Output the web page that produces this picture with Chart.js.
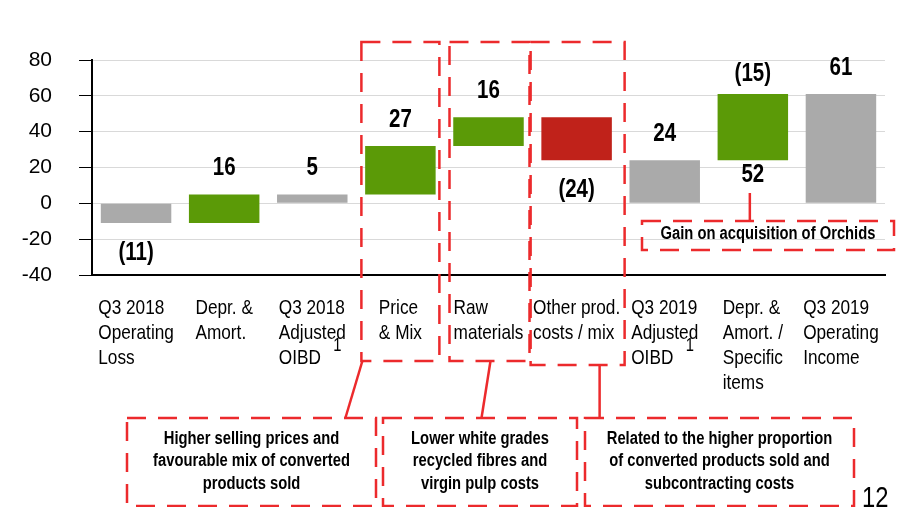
<!DOCTYPE html>
<html lang="en">
<head>
<meta charset="UTF-8">
<title>Operating income bridge Q3 2018 - Q3 2019</title>
<style>
  html, body { margin: 0; padding: 0; background: #fff; }
  .chart-box { width: 900px; height: 507px; }
</style>
</head>
<body>
<div class="chart-box"><canvas id="bridgeChart" width="900" height="507"></canvas></div>
<script src="https://cdn.jsdelivr.net/npm/chart.js"></script>
<script>
// category labels, one array entry per line
const categories = [
  ['Q3 2018', 'Operating', 'Loss'],
  ['Depr. &', 'Amort.'],
  ['Q3 2018', 'Adjusted', 'OIBD'],
  ['Price', '& Mix'],
  ['Raw', 'materials'],
  ['Other prod.', 'costs / mix'],
  ['Q3 2019', 'Adjusted', 'OIBD'],
  ['Depr. &', 'Amort. /', 'Specific', 'items'],
  ['Q3 2019', 'Operating', 'Income']
];
// floating bars: start and end value of each step
const barFrom = [0, -11, 0, 5, 32, 48, 0, 24, 0];
const barTo = [-11, 5, 5, 32, 48, 24, 24, 61, 61];
const barKind = ['total', 'up', 'total', 'up', 'up', 'down', 'total', 'up', 'total'];
const valueLabels = ['(11)', '16', '5', '27', '16', '(24)', '24', '(15)', '61'];
const extraLabels = ['', '', '', '', '', '', '', '52', ''];
const hasFootnote = [false, false, true, false, false, false, true, false, false];
const yMin = -40;
const yMax = 80;
const yStep = 20;

const noteTexts = [
  ['Higher selling prices and', 'favourable mix of converted', 'products sold'],
  ['Lower white grades', 'recycled fibres and', 'virgin pulp costs'],
  ['Related to the higher proportion', 'of converted products sold and', 'subcontracting costs']
];
const orchidsNote = 'Gain on acquisition of Orchids';
const pageNumber = '12';

const REGULAR = '"Liberation Sans", Arial, sans-serif';
const NARROW_SCALE = 0.82; // no narrow font installed, squeeze Liberation Sans instead
const kindColors = { total: '#aaaaaa', up: '#5b9a07', down: '#c0221a' };
const noteRed = '#ec2a2c';

function narrowText(ctx, text, x, y) {
  ctx.save();
  ctx.translate(x, y);
  ctx.scale(NARROW_SCALE, 1);
  ctx.fillText(text, 0, 0);
  ctx.restore();
}

function narrowWidth(ctx, text) {
  return ctx.measureText(text).width * NARROW_SCALE;
}

function strokeBox(ctx, x1, y1, x2, y2) {
  ctx.beginPath();
  ctx.rect(x1, y1, x2 - x1, y2 - y1);
  ctx.stroke();
}

function line(ctx, x1, y1, x2, y2) {
  ctx.beginPath();
  ctx.moveTo(x1, y1);
  ctx.lineTo(x2, y2);
  ctx.stroke();
}

const bridgeDecor = {
  id: 'bridgeDecor',
  afterDatasetsDraw(chart) {
    const ctx = chart.ctx;
    const xs = chart.scales.x;
    const area = chart.chartArea;
    const meta = chart.getDatasetMeta(0);
    ctx.save();

    // value labels
    ctx.fillStyle = '#000';
    ctx.textAlign = 'center';
    ctx.textBaseline = 'middle';
    ctx.font = 'bold 25px ' + REGULAR;
    meta.data.forEach((bar, i) => {
      const top = Math.min(bar.y, bar.base);
      const bottom = Math.max(bar.y, bar.base);
      if (extraLabels[i]) {
        narrowText(ctx, valueLabels[i], bar.x, top - 20);
        narrowText(ctx, extraLabels[i], bar.x, bottom + 15);
      } else if (barTo[i] < barFrom[i]) {
        narrowText(ctx, valueLabels[i], bar.x, bottom + 30);
      } else {
        narrowText(ctx, valueLabels[i], bar.x, top - 26);
      }
    });

    // category labels: block centred on the bar, lines left aligned
    ctx.textAlign = 'left';
    ctx.textBaseline = 'alphabetic';
    const baseY = area.bottom + 39;
    categories.forEach((lines, i) => {
      const cx = xs.getPixelForValue(i);
      ctx.font = '21px ' + REGULAR;
      const w = Math.max(...lines.map(l => narrowWidth(ctx, l)));
      lines.forEach((l, k) => narrowText(ctx, l, cx - w / 2, baseY + k * 25));
      if (hasFootnote[i]) {
        ctx.font = '18px ' + REGULAR;
        narrowText(ctx, '1', cx + 21, baseY + 37);
      }
    });

    // dashed red call-outs
    ctx.strokeStyle = noteRed;
    ctx.lineWidth = 2.5;
    ctx.setLineDash([19, 12]);
    const c3 = xs.getPixelForValue(3);
    const c4 = xs.getPixelForValue(4);
    const c5 = xs.getPixelForValue(5);
    const boxTop = area.top - 18;
    strokeBox(ctx, c3 - 39, boxTop, c3 + 39, 361);
    strokeBox(ctx, c4 - 39, boxTop, c4 + 41, 361);
    strokeBox(ctx, c5 - 46, boxTop, c5 + 48, 365);

    strokeBox(ctx, 127, 418, 376, 506);
    strokeBox(ctx, 383, 418, 577, 506);
    strokeBox(ctx, 585, 418, 854, 506);
    strokeBox(ctx, 642, 221, 894, 250);

    ctx.setLineDash([]);
    line(ctx, c3 - 38, 361, c3 - 55, 418);
    line(ctx, c4 + 2, 361, c4 - 7, 418);
    line(ctx, c5 + 23, 365, c5 + 23, 418);
    const c7 = xs.getPixelForValue(7);
    line(ctx, c7 - 3, 193, c7 - 3, 221);

    // call-out texts
    ctx.fillStyle = '#000';
    ctx.textAlign = 'center';
    ctx.textBaseline = 'middle';
    ctx.font = 'bold 18px ' + REGULAR;
    const noteCenters = [(127 + 376) / 2, (383 + 577) / 2, (585 + 854) / 2];
    noteTexts.forEach((lines, i) => {
      lines.forEach((l, k) => narrowText(ctx, l, noteCenters[i], 439 + k * 22.5));
    });
    narrowText(ctx, orchidsNote, 768, 234);

    ctx.textAlign = 'left';
    ctx.textBaseline = 'alphabetic';
    ctx.font = '29px ' + REGULAR;
    narrowText(ctx, pageNumber, 862, 507);

    ctx.restore();
  }
};

new Chart(document.getElementById('bridgeChart'), {
  type: 'bar',
  data: {
    labels: categories.map(c => c.join(' ')),
    datasets: [{
      data: barFrom.map((v, i) => [v, barTo[i]]),
      backgroundColor: barKind.map(k => kindColors[k]),
      borderWidth: 0,
      borderSkipped: false,
      barPercentage: 0.8,
      categoryPercentage: 1.0
    }]
  },
  options: {
    responsive: false,
    animation: false,
    devicePixelRatio: 1,
    layout: { padding: { top: 60, right: 15, left: 0, bottom: 0 } },
    plugins: {
      legend: { display: false },
      tooltip: { enabled: false }
    },
    scales: {
      x: {
        grid: { display: false },
        border: { display: true, color: '#000', width: 2 },
        ticks: { display: false },
        afterFit: s => { s.height = 232; }
      },
      y: {
        min: yMin,
        max: yMax,
        ticks: {
          stepSize: yStep,
          color: '#000',
          padding: 27,
          font: { family: REGULAR, size: 21 }
        },
        grid: { color: '#d9d9d9', lineWidth: 1, tickColor: '#000', tickLength: 13 },
        border: { color: '#000', width: 2 },
        afterFit: s => { s.width = 92; }
      }
    }
  },
  plugins: [bridgeDecor]
});
</script>
</body>
</html>
